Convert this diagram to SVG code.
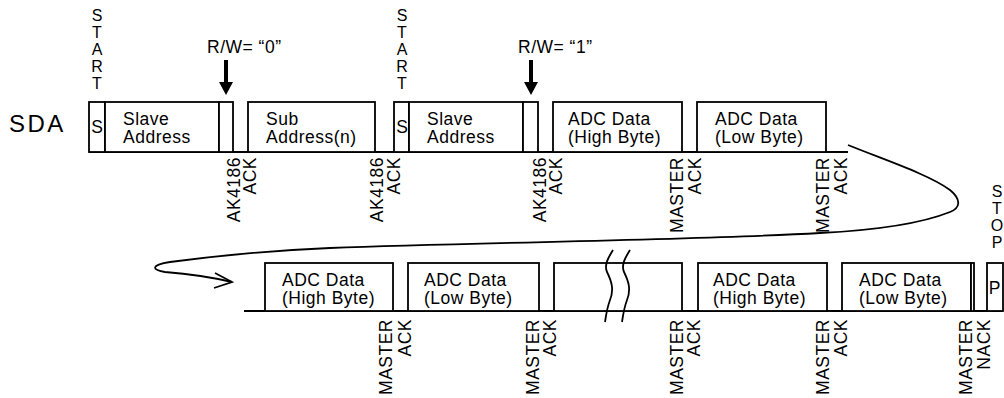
<svg xmlns="http://www.w3.org/2000/svg" width="1004" height="398" viewBox="0 0 1004 398">
<style>
text{font-family:"Liberation Sans",Arial,sans-serif;font-size:17.5px;fill:#000;letter-spacing:0.5px}
.box{fill:#fff;stroke:#000;stroke-width:1.8}
.ln{fill:none;stroke:#000;stroke-width:1.8}
.c{text-anchor:middle;letter-spacing:0}
.r{text-anchor:end}
.v{writing-mode:vertical-rl;text-orientation:upright;font-size:16px;letter-spacing:0}
.big{font-size:24px;letter-spacing:2.5px}
</style>
<rect width="1004" height="398" fill="#fff"/>
<g id="labels">
<text class="big" x="9" y="132">SDA</text>
<text id="start1" class="v" x="97" y="7">START</text>
<text id="start2" class="v" x="402" y="7">START</text>
<text id="stop" class="v" x="997" y="183">STOP</text>
<g id="rw0"><text x="207" y="53">R/W= “0”</text><path d="M224,60h4v22h5l-7,13l-7,-13h5z" fill="#000"/></g>
<g id="rw1"><text x="518" y="53">R/W= “1”</text><path d="M529,60h4v22h5l-7,13l-7,-13h5z" fill="#000"/></g>
</g>
<g id="row1">
<line class="ln" x1="89" y1="152" x2="848" y2="152"/>
<g id="s1"><rect class="box" x="89" y="102" width="16" height="50"/><text class="c" x="97" y="133">S</text></g>
<g id="slave1"><rect class="box" x="105" y="102" width="114" height="50"/><text x="123" y="125">Slave</text><text x="123" y="143">Address</text></g>
<g id="rwbit1"><rect class="box" x="219" y="102" width="14" height="50"/></g>
<g id="sub"><rect class="box" x="248" y="102" width="127" height="50"/><text x="266" y="125">Sub</text><text x="266" y="143">Address(n)</text></g>
<g id="s2"><rect class="box" x="394" y="102" width="15" height="50"/><text class="c" x="402" y="133">S</text></g>
<g id="slave2"><rect class="box" x="409" y="102" width="114" height="50"/><text x="427" y="125">Slave</text><text x="427" y="143">Address</text></g>
<g id="rwbit2"><rect class="box" x="523" y="102" width="15" height="50"/></g>
<g id="adch1"><rect class="box" x="553" y="102" width="129" height="50"/><text x="568" y="125">ADC Data</text><text x="568" y="143">(High Byte)</text></g>
<g id="adcl1"><rect class="box" x="697" y="102" width="129" height="50"/><text x="715" y="125">ADC Data</text><text x="715" y="143">(Low Byte)</text></g>
</g>
<g id="acks1">
<text class="r" transform="translate(240,157) rotate(-90)">AK4186</text><text class="r" transform="translate(256,157) rotate(-90)">ACK</text>
<text class="r" transform="translate(383,157) rotate(-90)">AK4186</text><text class="r" transform="translate(400,157) rotate(-90)">ACK</text>
<text class="r" transform="translate(546,157) rotate(-90)">AK4186</text><text class="r" transform="translate(562,157) rotate(-90)">ACK</text>
<text class="r" transform="translate(683,157) rotate(-90)">MASTER</text><text class="r" transform="translate(701,157) rotate(-90)">ACK</text>
<text class="r" transform="translate(829,157) rotate(-90)">MASTER</text><text class="r" transform="translate(847,157) rotate(-90)">ACK</text>
</g>
<g id="row2">
<line class="ln" x1="244" y1="311" x2="1003" y2="311"/>
<g id="adch2"><rect class="box" x="265" y="263" width="128" height="48"/><text x="282" y="286">ADC Data</text><text x="282" y="304">(High Byte)</text></g>
<g id="adcl2"><rect class="box" x="408" y="263" width="131" height="48"/><text x="424" y="286">ADC Data</text><text x="424" y="304">(Low Byte)</text></g>
<g id="gapbox"><rect class="box" x="554" y="263" width="128" height="48"/>
<path class="ln" d="M613,250C608,258 604,265 607,272C612,282 614,290 610,300C607,308 606,315 605,322"/>
<path class="ln" d="M630,250C625,258 621,265 624,272C629,282 631,290 627,300C624,308 623,315 622,322"/></g>
<g id="adch3"><rect class="box" x="698" y="263" width="129" height="48"/><text x="713" y="286">ADC Data</text><text x="713" y="304">(High Byte)</text></g>
<g id="adcl3"><rect class="box" x="842" y="263" width="129" height="48"/><text x="859" y="286">ADC Data</text><text x="859" y="304">(Low Byte)</text></g>
<g id="nack"><rect class="box" x="971" y="263" width="3" height="48"/></g>
<g id="p"><rect class="box" x="987" y="263" width="16" height="48"/><text class="c" x="994.5" y="294">P</text></g>
</g>
<g id="acks2">
<text class="r" transform="translate(392,319) rotate(-90)">MASTER</text><text class="r" transform="translate(411,319) rotate(-90)">ACK</text>
<text class="r" transform="translate(539,319) rotate(-90)">MASTER</text><text class="r" transform="translate(556,319) rotate(-90)">ACK</text>
<text class="r" transform="translate(683,319) rotate(-90)">MASTER</text><text class="r" transform="translate(700,319) rotate(-90)">ACK</text>
<text class="r" transform="translate(829,319) rotate(-90)">MASTER</text><text class="r" transform="translate(847,319) rotate(-90)">ACK</text>
<text class="r" transform="translate(972,319) rotate(-90)">MASTER</text><text class="r" transform="translate(990,319) rotate(-90)">NACK</text>
</g>
<g id="connectors">
<path class="ln" d="M848,145C885,160 930,175 950,190C962,200 960,208 950,212C925,222 880,230 820,233C700,240 500,242 330,248C260,251 200,258 170,262C150,265 152,270 165,272C190,274 215,278 232,282"/>
<path class="ln" d="M215,273L232,282L214,288"/>
</g>
</svg>
